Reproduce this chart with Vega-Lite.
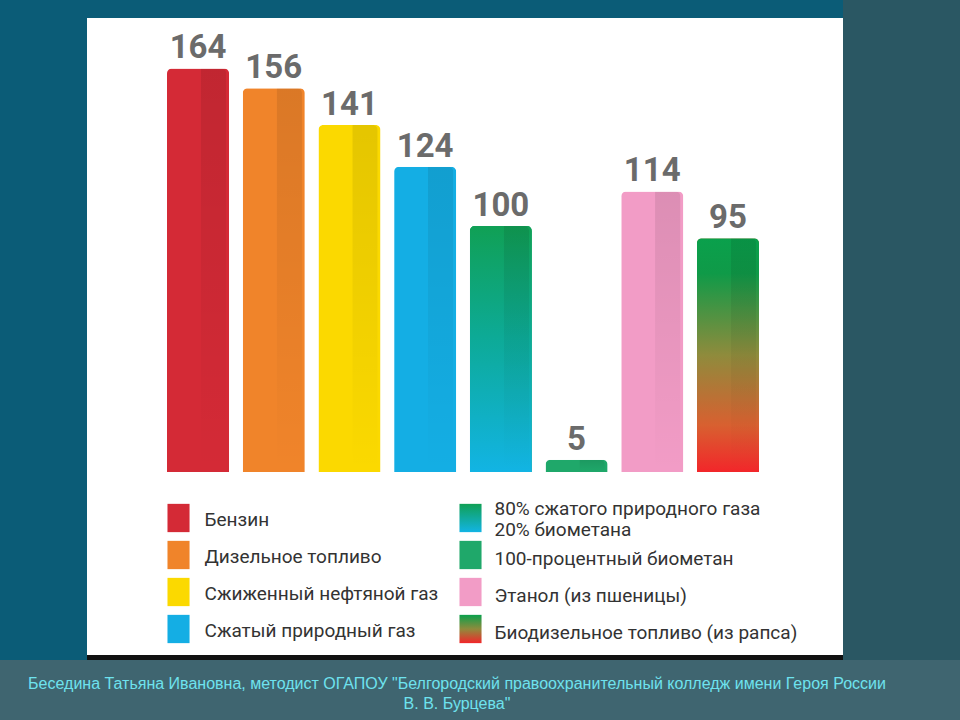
{
  "$schema": "https://vega.github.io/schema/vega-lite/v6.json",
  "background": "#3f6570",
  "autosize": {"type": "none"},
  "padding": {"left": 0, "top": 0, "right": 960, "bottom": 720},
  "config": {"view": {"fill": "white", "stroke": null}},
  "spacing": 0,
  "title": {
    "text": ["Беседина Татьяна Ивановна, методист  ОГАПОУ  \"Белгородский правоохранительный колледж   имени Героя России", "В. В. Бурцева\""],
    "orient": "bottom",
    "anchor": "middle",
    "color": "#6ee2ee",
    "font": "'Liberation Sans', sans-serif",
    "fontSize": 16,
    "fontWeight": "normal",
    "lineHeight": 20,
    "offset": 16,
    "dx": -23
  },
  "data": {
    "values": [
      {"name": "Бензин", "value": 164, "color": "#d42a36", "grad": "none", "col": 0, "row": 0},
      {"name": "Дизельное топливо", "value": 156, "color": "#f0842a", "grad": "none", "col": 0, "row": 1},
      {"name": "Сжиженный нефтяной газ", "value": 141, "color": "#fbd900", "grad": "none", "col": 0, "row": 2},
      {"name": "Сжатый природный газ", "value": 124, "color": "#14aee4", "grad": "none", "col": 0, "row": 3},
      {"name": "80% сжатого природного газа\n20% биометана", "value": 100, "color": "#12a86a", "grad": "teal", "col": 1, "row": 0},
      {"name": "100-процентный биометан", "value": 5, "color": "#1fa86a", "grad": "none", "col": 1, "row": 1},
      {"name": "Этанол (из пшеницы)", "value": 114, "color": "#f29cc6", "grad": "none", "col": 1, "row": 2},
      {"name": "Биодизельное топливо (из рапса)", "value": 95, "color": "#8a8a3c", "grad": "bio", "col": 1, "row": 3}
    ]
  },
  "hconcat": [
    {
      "width": 87,
      "height": 660,
      "view": {"fill": "#0b5c77", "stroke": null},
      "mark": {"type": "point", "opacity": 0},
      "encoding": {}
    },
    {
      "spacing": 0,
      "vconcat": [
        {
          "width": 756,
          "height": 18,
          "view": {"fill": "#0b5c77", "stroke": null},
          "mark": {"type": "point", "opacity": 0},
          "encoding": {}
        },
        {
          "width": 756,
          "height": 454,
          "encoding": {
            "x": {"field": "name", "type": "nominal", "sort": null, "axis": null,
                  "scale": {"paddingInner": 0.18, "paddingOuter": 1, "range": [4.3, 747.7]}},
            "y": {"field": "value", "type": "quantitative", "axis": null,
                  "scale": {"domain": [0, 184.5], "nice": false}}
          },
          "layer": [
            {
              "mark": {"type": "bar", "cornerRadiusTopLeft": 5, "cornerRadiusTopRight": 5},
              "encoding": {"color": {"field": "color", "type": "nominal", "scale": null}}
            },
            {
              "transform": [{"filter": "datum.grad == 'teal'"}],
              "mark": {"type": "bar", "cornerRadiusTopLeft": 5, "cornerRadiusTopRight": 5,
                       "color": {"gradient": "linear", "x1": 0, "y1": 0, "x2": 0, "y2": 1,
                                 "stops": [{"offset": 0, "color": "#10a055"}, {"offset": 0.45, "color": "#0daa96"}, {"offset": 1, "color": "#12b4e4"}]}}
            },
            {
              "transform": [{"filter": "datum.grad == 'bio'"}],
              "mark": {"type": "bar", "cornerRadiusTopLeft": 5, "cornerRadiusTopRight": 5,
                       "color": {"gradient": "linear", "x1": 0, "y1": 0, "x2": 0, "y2": 1,
                                 "stops": [{"offset": 0, "color": "#0aa04c"}, {"offset": 0.15, "color": "#0f9a48"}, {"offset": 0.5, "color": "#8f8b3c"}, {"offset": 0.8, "color": "#d86030"}, {"offset": 1, "color": "#f2262a"}]}}
            },
            {
              "mark": {"type": "bar", "width": {"band": 0.41}, "xOffset": 15.5, "cornerRadiusTopRight": 5,
                       "color": {"gradient": "linear", "x1": 0, "y1": 0, "x2": 0, "y2": 1,
                                 "stops": [{"offset": 0, "color": "rgba(0,0,0,0.09)"}, {"offset": 1, "color": "rgba(0,0,0,0)"}]}}
            },
            {
              "mark": {"type": "text", "baseline": "alphabetic", "dy": -10, "fontSize": 33, "fontWeight": "bold",
                       "font": "Roboto, sans-serif", "color": "#6b6b6b"},
              "encoding": {"text": {"field": "value", "type": "quantitative"}}
            }
          ]
        },
        {
          "width": 756,
          "height": 188,
          "encoding": {
            "x": {"field": "col", "type": "quantitative", "axis": null,
                  "scale": {"domain": [-0.3134, 2.2757], "nice": false, "zero": false}},
            "y": {"field": "row", "type": "quantitative", "axis": null,
                  "scale": {"domain": [-1.243, 3.838], "nice": false, "zero": false, "reverse": true}}
          },
          "layer": [
            {
              "transform": [{"filter": "datum.grad == 'none'"}],
              "mark": {"type": "point", "shape": "M-0.78,-1L0.78,-1L0.78,1L-0.78,1Z", "size": 800, "filled": true, "opacity": 1},
              "encoding": {"color": {"field": "color", "type": "nominal", "scale": null}}
            },
            {
              "transform": [{"filter": "datum.grad == 'teal'"}],
              "mark": {"type": "point", "shape": "M-0.78,-1L0.78,-1L0.78,1L-0.78,1Z", "size": 800, "filled": true, "opacity": 1,
                       "color": {"gradient": "linear", "x1": 0, "y1": 0, "x2": 0, "y2": 1,
                                 "stops": [{"offset": 0, "color": "#10a055"}, {"offset": 1, "color": "#12b4e4"}]}}
            },
            {
              "transform": [{"filter": "datum.grad == 'bio'"}],
              "mark": {"type": "point", "shape": "M-0.78,-1L0.78,-1L0.78,1L-0.78,1Z", "size": 800, "filled": true, "opacity": 1,
                       "color": {"gradient": "linear", "x1": 0, "y1": 0, "x2": 0, "y2": 1,
                                 "stops": [{"offset": 0, "color": "#0aa04c"}, {"offset": 0.5, "color": "#8f8b3c"}, {"offset": 1, "color": "#f2262a"}]}}
            },
            {
              "transform": [{"filter": "datum.col == 0"}],
              "mark": {"type": "text", "align": "left", "baseline": "middle", "dx": 26, "dy": 2, "fontSize": 19,
                       "font": "Roboto, sans-serif", "color": "#333333"},
              "encoding": {"text": {"field": "name", "type": "nominal"}}
            },
            {
              "transform": [{"filter": "datum.col == 1 && datum.grad != 'teal'"}],
              "mark": {"type": "text", "align": "left", "baseline": "middle", "dx": 24, "dy": 4, "fontSize": 19,
                       "font": "Roboto, sans-serif", "color": "#333333"},
              "encoding": {"text": {"field": "name", "type": "nominal"}}
            },
            {
              "transform": [{"filter": "datum.grad == 'teal'"}],
              "mark": {"type": "text", "align": "left", "baseline": "middle", "dx": 24, "dy": -9, "fontSize": 19,
                       "font": "Roboto, sans-serif", "color": "#333333", "lineBreak": "\n", "lineHeight": 21},
              "encoding": {"text": {"field": "name", "type": "nominal"}}
            },
            {
              "mark": {"type": "rect", "color": "#111111"},
              "encoding": {
                "x": {"datum": -0.3134},
                "x2": {"datum": 2.2757},
                "y": {"datum": 3.703},
                "y2": {"datum": 3.838}
              }
            }
          ]
        }
      ]
    },
    {
      "width": 117,
      "height": 660,
      "view": {"fill": "#2a5763", "stroke": null},
      "mark": {"type": "point", "opacity": 0},
      "encoding": {}
    }
  ]
}
